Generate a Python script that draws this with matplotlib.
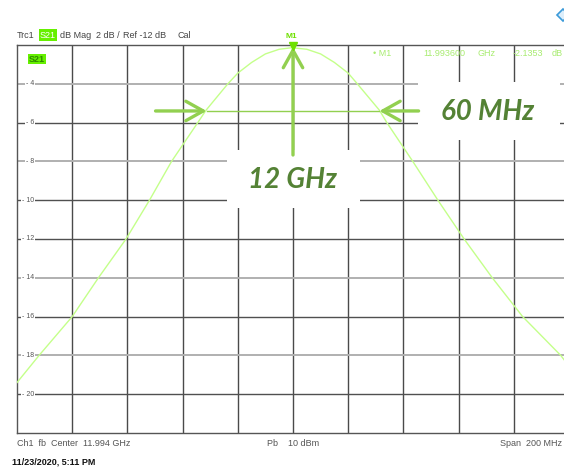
import matplotlib
matplotlib.use('Agg')
import matplotlib.pyplot as plt
import matplotlib.transforms as mtransforms
from matplotlib.patches import Rectangle
from matplotlib.lines import Line2D

# S21 trace, offset from center 11.994 GHz (MHz) vs magnitude (dB)
offset_mhz = [-100, -96, -92, -80, -70.5, -60.5, -52, -44, -34.5, -31.5, -23.6, -20,
              -15, -10, -5, -0.4, 5, 10, 15, 20, 23.3, 31.3, 34, 43.4, 52.5, 62, 72.2,
              83.2, 97, 100]
s21_db = [-19.4, -18.7, -18.0, -16.0, -14.0, -12.0, -10.0, -8.0, -6.0, -5.36, -4.0, -3.45,
          -2.9, -2.46, -2.22, -2.14, -2.22, -2.46, -2.9, -3.45, -4.0, -5.36, -6.0, -8.0,
          -10.0, -12.0, -14.0, -16.0, -18.0, -18.55]
y_ticks = [-4, -6, -8, -10, -12, -14, -16, -18, -20]
light_rows = [-4, -8, -14, -18]
marker_freq = 11.993600
marker_db = -2.1353

W, H = 564, 469
fig = plt.figure(figsize=(W / 100, H / 100), dpi=100)

def fx(px):
    return px / W

def fy(py):
    return 1 - py / H

ax = fig.add_axes([fx(17), fy(433), 552 / W, 388 / H])
ax.set_xlim(-100, 100)
ax.set_ylim(-22, -2)
ax.set_xticks([])
ax.set_yticks([])
for s in ['left', 'bottom', 'top']:
    ax.spines[s].set_color('#555555')
    ax.spines[s].set_linewidth(1.0)
ax.spines['right'].set_visible(False)

# grid
for xv in range(-80, 100, 20):
    ax.axvline(xv, color='#4a4a4a', lw=1.0, zorder=1)
for yv in range(-20, -2, 2):
    if yv in light_rows:
        ax.axhline(yv, color='#b0b0b0', lw=1.4, zorder=1)
    else:
        ax.axhline(yv, color='#505050', lw=1.0, zorder=1)

# y labels inside the grid
tr = mtransforms.blended_transform_factory(fig.transFigure, ax.transData)
for yv in y_ticks:
    ax.text(fx(34), yv, str(yv).replace('-', '- '), transform=tr, ha='right', va='center',
            fontsize=5, color='#555555', family='Liberation Sans', zorder=3,
            bbox=dict(facecolor='white', edgecolor='none', pad=0.6))

ax.plot(offset_mhz, s21_db, color='#c4ff8a', lw=1.0, zorder=4)

# white boxes behind annotation text
for x0, y0, x1, y1 in [(227, 150, 360, 208), (418, 82, 560, 140)]:
    ax.add_patch(Rectangle((fx(x0), fy(y1)), fx(x1) - fx(x0), fy(y0) - fy(y1),
                           transform=fig.transFigure, facecolor='white', edgecolor='none',
                           zorder=5, clip_on=False))

green = '#92d050'
arrow = dict(arrowstyle='->,head_length=1.25,head_width=0.7', lw=2.4, color=green,
             shrinkA=0, shrinkB=0)
ax.annotate('', xy=(0, -2.1), xytext=(0, -7.67), arrowprops=arrow, zorder=6)
ax.annotate('', xy=(-31.3, -5.4), xytext=(-49.8, -5.4), arrowprops=arrow, zorder=6)
ax.annotate('', xy=(31.3, -5.4), xytext=(45.5, -5.4), arrowprops=arrow, zorder=6)
ax.plot([-31.3, 31.3], [-5.4, -5.4], color=green, lw=1.0, zorder=6)

big = dict(fontsize=20, fontweight='bold', style='italic', color='#548235',
           family='Lato', ha='center', va='center', zorder=7)
fig.text(fx(293), fy(180), '12 GHz', **big)
fig.text(fx(488), fy(112), '60 MHz', **big)

# marker M1
ax.plot([0], [-2.05], marker='v', ms=6, color='#6ee000', clip_on=False, zorder=8)
fig.text(fx(291), fy(36), 'M1', fontsize=6, fontweight='bold', color='#6ee000',
         family='Liberation Sans', ha='center', va='center')

small = dict(fontsize=6.5, family='Liberation Sans', va='center')
fig.text(fx(17), fy(35), 'Trc1', color='#444444', **small)
fig.text(fx(40), fy(35), 'S21', color='white', **small,
         bbox=dict(facecolor='#66f000', edgecolor='none', pad=0.8))
fig.text(fx(60), fy(35), 'dB Mag', color='#444444', **small)
fig.text(fx(96), fy(35), '2 dB /', color='#444444', **small)
fig.text(fx(123), fy(35), 'Ref -12 dB', color='#444444', **small)
fig.text(fx(177), fy(35), 'Cal', color='#444444', **small)

fig.text(fx(29), fy(59), 'S21', color='#2f8a00', fontsize=6.5, fontweight='bold',
         family='Liberation Sans', va='center',
         bbox=dict(facecolor='#66f000', edgecolor='none', pad=0.6))

pale = '#a8ec70'
fig.text(fx(373), fy(54), '\u2022 M1', color=pale, **small)
fig.text(fx(465), fy(54), f'{marker_freq:.6f}', color=pale, ha='right', **small)
fig.text(fx(477), fy(54), 'GHz', color=pale, **small)
fig.text(fx(543), fy(54), f'{marker_db:.4f}', color=pale, ha='right', **small)
fig.text(fx(552), fy(54), 'dB', color=pale, **small)

fig.text(fx(17), fy(443), 'Ch1  fb  Center  11.994 GHz', color='#555555', **small)
fig.text(fx(267), fy(443), 'Pb    10 dBm', color='#555555', **small)
fig.text(fx(500), fy(443), 'Span  200 MHz', color='#555555', **small)
fig.text(fx(12), fy(462), '11/23/2020, 5:11 PM', color='#111111', fontsize=6.5,
         fontweight='bold', family='Liberation Sans', va='center')

fig.add_artist(Line2D([fx(563)], [fy(15)], marker='D', ms=6, mfc='#dceefb', mec='#3a9ad9',
                      mew=1.2, transform=fig.transFigure))

fig.savefig('out.png', dpi=100)
